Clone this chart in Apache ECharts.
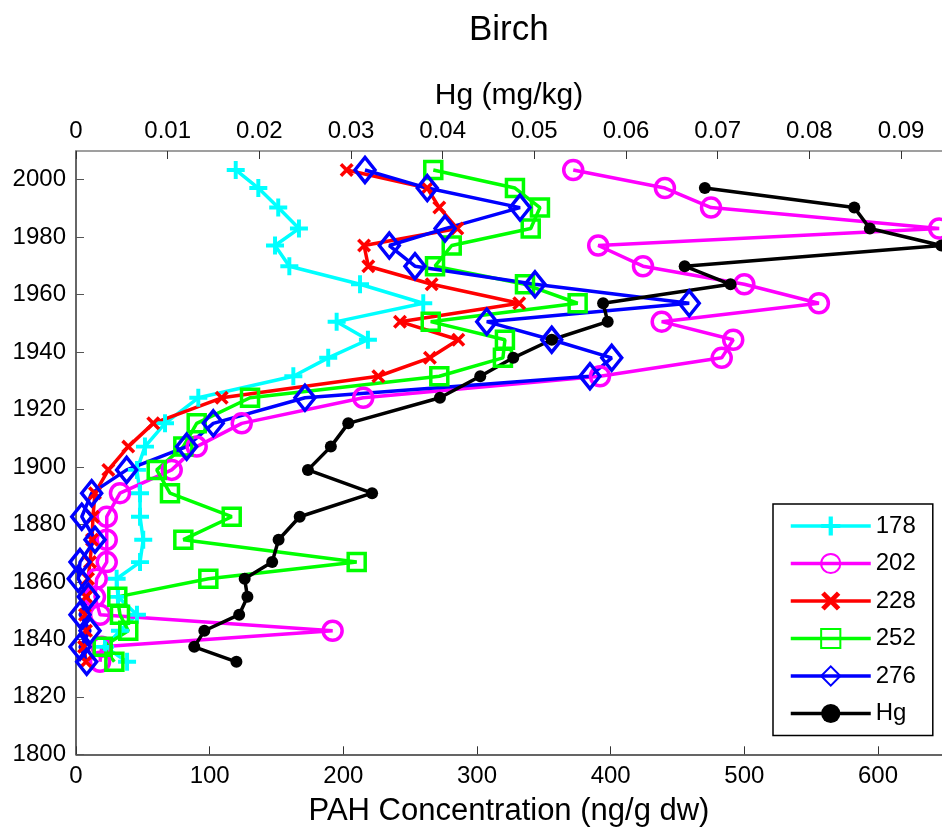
<!DOCTYPE html>
<html>
<head>
<meta charset="utf-8">
<script src="https://cdn.jsdelivr.net/npm/echarts@6/dist/echarts.min.js"></script>
<style>
html,body{margin:0;padding:0;background:#fff;}
#chart{width:942px;height:835px;}
</style>
</head>
<body>
<div id="chart"></div>
<script>
// Years (sample depths converted to dates)
const years = [2003.4,1997.1,1990.3,1983.0,1977.1,1969.9,1963.6,1957.0,1950.6,1944.3,1938.0,1931.6,1924.1,1915.2,1907.1,1899.0,1890.9,1882.7,1874.7,1866.9,1861.1,1854.8,1848.6,1843.0,1837.4,1832.2];
const hgYears = years.slice(1);

// PAH concentrations (ng/g dw)
const pah178 = [119.5,136.4,151.3,166.8,148.9,159.6,212.5,259.8,195.0,218.4,188.7,162.6,91.5,66.6,51.6,45.6,47.9,47.9,50.3,47.9,30.4,31.4,45.6,32.9,21.7,38.2];
const pah202 = [372.0,440.6,475.1,645.8,390.7,424.2,500.0,555.8,438.2,491.7,483.1,392.0,214.9,124.0,90.3,71.6,32.9,23.0,23.0,23.0,15.5,14.2,18.0,192.0,19.2,18.0];
const pah228 = [202.5,262.8,271.8,285.3,215.5,218.7,266.1,331.6,242.4,286.0,264.8,226.2,109.0,57.8,39.1,24.2,14.2,12.7,12.0,10.5,9.0,7.5,6.7,7.5,6.0,7.5];
const pah252 = [267.3,328.4,347.1,340.2,281.1,268.6,335.9,375.3,265.4,320.9,319.4,271.8,130.2,90.3,80.3,60.4,70.3,116.5,80.3,210.0,99.0,30.9,32.9,39.1,20.0,28.7];
const pah276 = [216.2,262.8,332.2,276.1,234.4,253.6,343.4,458.8,307.3,355.9,400.8,384.5,171.3,102.7,82.8,37.9,11.7,4.3,14.2,3.0,1.7,9.2,3.0,10.5,3.0,8.0];
// Hg (mg/kg)
const hg = [0.0686,0.0849,0.0866,0.0944,0.0664,0.0714,0.0575,0.0580,0.0519,0.0477,0.0441,0.0397,0.0297,0.0278,0.0253,0.0323,0.0244,0.0221,0.0214,0.0184,0.0187,0.0178,0.0140,0.0129,0.0175];

const seriesNames = ['178','202','228','252','276','Hg'];
const yTicks = {min:1800, max:2010, interval:20};

const FONT = 'Liberation Sans, Arial, Helvetica, sans-serif';
const pair = (xs, ys) => xs.map((v,i)=>[v, ys[i]]);

const PLUS = 'path://M3.9,0H6.1V10H3.9Z M0,3.9H10V6.1H0Z';
const CROSS = 'path://M0,1.8L1.8,0L10,8.2L8.2,10Z M8.2,0L10,1.8L1.8,10L0,8.2Z';

function mk(name, data, color, symbol, size, hollow, axisIdx){
  return {
    name, type:'line', data, xAxisIndex: axisIdx, yAxisIndex:0,
    symbol, symbolSize:size, showAllSymbol:true,
    lineStyle:{color, width:3.5},
    itemStyle: hollow ? {color:'rgba(255,255,255,0)', borderColor:color, borderWidth:3.5}
                      : {color, borderWidth:0},
    emphasis:{disabled:true}, silent:true, z:2
  };
}

const chart = echarts.init(document.getElementById('chart'), null, {renderer:'canvas'});
chart.setOption({
  animation:false,
  backgroundColor:'#fff',
  textStyle:{fontFamily:FONT},
  title:{text:'Birch', left:464, top:8, textStyle:{fontFamily:FONT, fontSize:35, fontWeight:'normal', color:'#000'}},
  grid:{left:76, top:151, right:0, bottom:80.7, containLabel:false},
  legend:{
    orient:'vertical', left:773, top:504,
    data:seriesNames,
    itemWidth:80, itemHeight:24, itemGap:13.5,
    padding:[10,17,10,16],
    borderColor:'#000', borderWidth:1.5, backgroundColor:'#fff',
    lineStyle:{width:3.5},
    textStyle:{fontFamily:FONT, fontSize:24, color:'#000'},
    selectedMode:false
  },
  xAxis:[
    {type:'value', position:'bottom', min:0, max:647.9, interval:100,
     name:'PAH Concentration (ng/g dw)', nameLocation:'middle', nameGap:42,
     nameTextStyle:{fontFamily:FONT, fontSize:31, color:'#000'},
     axisLine:{show:true, lineStyle:{color:'#333', width:1.5}},
     axisTick:{show:true, inside:true, length:8, lineStyle:{color:'#333'}},
     axisLabel:{fontFamily:FONT, fontSize:24, color:'#000', margin:10, showMaxLabel:false,
       formatter: v => String(v)},
     splitLine:{show:false}},
    {type:'value', position:'top', min:0, max:0.09447, interval:0.01,
     name:'Hg (mg/kg)', nameLocation:'middle', nameGap:40,
     nameTextStyle:{fontFamily:FONT, fontSize:30, color:'#000'},
     axisLine:{show:true, onZero:false, lineStyle:{color:'#808080', width:1.5}},
     axisTick:{show:true, inside:true, length:8, lineStyle:{color:'#333'}},
     axisLabel:{fontFamily:FONT, fontSize:24, color:'#000', margin:8, showMaxLabel:false,
       formatter: v => String(+v.toFixed(2))},
     splitLine:{show:false}}
  ],
  yAxis:[{type:'value', min:yTicks.min, max:yTicks.max, interval:yTicks.interval,
     axisLine:{show:true, onZero:false, lineStyle:{color:'#333', width:1.5}},
     axisTick:{show:true, inside:true, length:8, lineStyle:{color:'#555'}},
     axisLabel:{fontFamily:FONT, fontSize:24, color:'#000', margin:10, showMaxLabel:false,
       formatter: v => String(v)},
     splitLine:{show:false}}],
  series:[
    mk('178', pair(pah178, years), '#00FFFF', PLUS, 18, false, 0),
    mk('202', pair(pah202, years), '#FF00FF', 'circle', 19, true, 0),
    mk('228', pair(pah228, years), '#FF0000', CROSS, 14, false, 0),
    mk('252', pair(pah252, years), '#00FF00', 'rect', 17, true, 0),
    mk('276', pair(pah276, years), '#0000FF', 'diamond', [20,25], true, 0),
    mk('Hg', pair(hg, hgYears), '#000000', 'circle', 12, false, 1)
  ]
});
</script>
</body>
</html>
